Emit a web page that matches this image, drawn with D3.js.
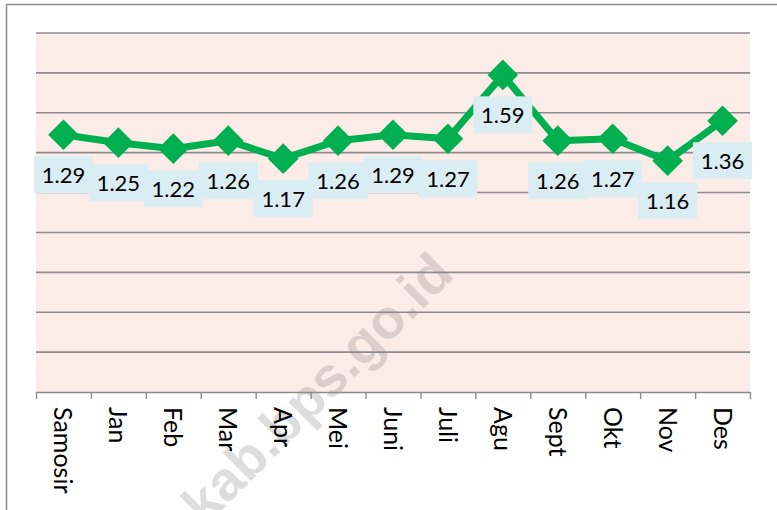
<!DOCTYPE html>
<html>
<head>
<meta charset="utf-8">
<script src="https://cdn.jsdelivr.net/npm/d3@7"></script>
<style>
  body { margin: 0; background: #fff; }
  svg { display: block; }
</style>
</head>
<body>
<div id="chart"></div>
<script>
const months = ['Samosir', 'Jan', 'Feb', 'Mar', 'Apr', 'Mei', 'Juni', 'Juli', 'Agu', 'Sept', 'Okt', 'Nov', 'Des'];
const values = [1.29, 1.25, 1.22, 1.26, 1.17, 1.26, 1.29, 1.27, 1.59, 1.26, 1.27, 1.16, 1.36];
const gridTicks = [0, 0.2, 0.4, 0.6, 0.8, 1.0, 1.2, 1.4, 1.6, 1.8];

const w = 777;
const h = 510;
const plotL = 36, plotR = 750, plotT = 33, plotB = 392;

const svg = d3.select('#chart').append('svg')
  .attr('width', w).attr('height', h);

// outer chart frame (runs off the right/bottom of the picture)
svg.append('rect')
  .attr('x', 6.5).attr('y', 4.5)
  .attr('width', 820).attr('height', 600)
  .attr('fill', '#fff')
  .attr('stroke', '#8a8a8a').attr('stroke-width', 1.5);

const xScale = d3.scaleBand().domain(months).range([plotL, plotR]).padding(0);
const yScale = d3.scaleLinear().domain([0, 1.8]).range([plotB, plotT]);
const edgeScale = d3.scaleLinear().domain([0, months.length]).range([plotL, plotR]);

// plot area
svg.append('rect')
  .attr('x', plotL).attr('y', plotT)
  .attr('width', plotR - plotL).attr('height', plotB - plotT)
  .attr('fill', '#fcece7');

// watermark, sits under the grid lines
svg.append('text')
  .attr('transform', 'translate(205,527) rotate(-45)')
  .attr('font-family', '"Liberation Sans", Arial, sans-serif')
  .attr('font-weight', 'bold')
  .attr('font-size', 55)
  .attr('fill', '#7f7f7f')
  .attr('opacity', 0.26)
  .text('kab.bps.go.id');

// horizontal grid
svg.append('g')
  .selectAll('line').data(gridTicks.slice(1)).enter().append('line')
  .attr('x1', plotL).attr('x2', plotR)
  .attr('y1', d => yScale(d)).attr('y2', d => yScale(d))
  .attr('stroke', '#8c8c8c').attr('stroke-width', 1.6);

// x axis, ticks between the categories
const xAxis = d3.axisBottom(edgeScale)
  .tickValues(d3.range(0, months.length + 1))
  .tickSize(7)
  .tickSizeOuter(0)
  .tickFormat('');
const axisG = svg.append('g')
  .attr('transform', 'translate(0,' + plotB + ')')
  .call(xAxis);
axisG.select('.domain').attr('stroke', '#8c8c8c').attr('stroke-width', 1.6);
axisG.selectAll('.tick line').attr('stroke', '#8c8c8c').attr('stroke-width', 1.4);

svg.append('g')
  .selectAll('text').data(months).enter().append('text')
  .attr('transform', d => 'translate(' + (xScale(d) + xScale.bandwidth() / 2 - 9) + ',' + (plotB + 15) + ') rotate(90)')
  .attr('font-family', 'Lato, sans-serif')
  .attr('font-size', 25)
  .attr('fill', '#000')
  .text(d => d);

const cx = (d, i) => xScale(months[i]) + xScale.bandwidth() / 2;

// line
const line = d3.line()
  .x((d, i) => cx(d, i))
  .y(d => yScale(d));
svg.append('path')
  .datum(values)
  .attr('d', line)
  .attr('fill', 'none')
  .attr('stroke', '#00b050')
  .attr('stroke-width', 7)
  .attr('stroke-linejoin', 'round');

// diamond markers
const diamond = d3.symbol().type(d3.symbolSquare).size(470);
svg.append('g')
  .selectAll('path').data(values).enter().append('path')
  .attr('d', diamond)
  .attr('transform', (d, i) => 'translate(' + cx(d, i) + ',' + yScale(d) + ') rotate(45)')
  .attr('fill', '#00b050');

// data labels
const labels = svg.append('g')
  .selectAll('g').data(values).enter().append('g')
  .attr('transform', (d, i) => 'translate(' + cx(d, i) + ',' + (yScale(d) + 40) + ')');
labels.append('rect')
  .attr('x', -29.5).attr('y', -18.5)
  .attr('width', 59).attr('height', 37)
  .attr('fill', '#daedf3');
labels.append('text')
  .attr('text-anchor', 'middle')
  .attr('dy', '0.36em')
  .attr('font-family', 'Lato, sans-serif')
  .attr('font-size', 22)
  .attr('fill', '#000')
  .text(d => d.toFixed(2));
</script>
</body>
</html>
